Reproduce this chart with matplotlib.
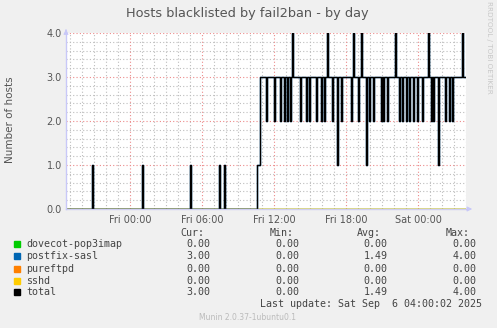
import matplotlib
matplotlib.use("Agg")
import matplotlib.pyplot as plt
import numpy as np

# ---- data (minutes relative to Fri 00:00; value holds from that time on) ----
event_min = [-320, -190, -185, 60, 65, 300, 305, 445, 450, 470, 475,
             635, 650, 680, 685, 720, 725, 750, 755, 770, 775, 785, 790,
             800, 805, 810, 815, 850, 855, 880, 885, 895, 900, 930, 935,
             955, 960, 970, 975, 985, 990, 1010, 1015, 1035, 1040, 1055, 1060,
             1105, 1110, 1115, 1120, 1140, 1145, 1155, 1160, 1180, 1185,
             1195, 1200, 1215, 1220, 1255, 1260, 1265, 1270, 1285, 1290,
             1325, 1330, 1345, 1350, 1360, 1365, 1380, 1385, 1395, 1400,
             1415, 1420, 1435, 1440, 1460, 1465, 1490, 1495, 1505, 1510,
             1515, 1520, 1540, 1545, 1575, 1580, 1595, 1600, 1610, 1615,
             1660, 1665, 1680]
postfix_sasl = [0, 1, 0, 1, 0, 1, 0, 1, 0, 1, 0,
                1, 3, 2, 3, 2, 3, 2, 3, 2, 3, 2, 3,
                2, 3, 4, 3, 2, 3, 2, 3, 2, 3, 2, 3,
                2, 3, 2, 3, 4, 3, 2, 3, 1, 3, 2, 3,
                2, 3, 4, 3, 2, 3, 4, 3, 1, 3,
                2, 3, 2, 3, 2, 3, 2, 3, 2, 3,
                4, 3, 2, 3, 2, 3, 2, 3, 2, 3,
                2, 3, 2, 3, 2, 3, 4, 3, 2, 3,
                2, 3, 1, 3, 2, 3, 2, 3, 2, 3,
                4, 3, 3]
dovecot = [0] * len(event_min)
pureftpd = [0] * len(event_min)
sshd = [0] * len(event_min)
total = [a + b + c + d for a, b, c, d in zip(dovecot, postfix_sasl, pureftpd, sshd)]

series_names = ["dovecot-pop3imap", "postfix-sasl", "pureftpd", "sshd", "total"]
series_colors = ["#00cc00", "#0066b3", "#ff8000", "#ffcc00", "#000000"]
cur_vals = ["0.00", "3.00", "0.00", "0.00", "3.00"]
min_vals = ["0.00", "0.00", "0.00", "0.00", "0.00"]
avg_vals = ["0.00", "1.49", "0.00", "0.00", "1.49"]
max_vals = ["0.00", "4.00", "0.00", "0.00", "4.00"]

tick_pos = [0, 360, 720, 1080, 1440]
tick_labels = ["Fri 00:00", "Fri 06:00", "Fri 12:00", "Fri 18:00", "Sat 00:00"]
y_ticks = [0, 1, 2, 3, 4]
y_tick_labels = ["0.0", "1.0", "2.0", "3.0", "4.0"]

title = "Hosts blacklisted by fail2ban - by day"
ylabel = "Number of hosts"
last_update = "Last update: Sat Sep  6 04:00:02 2025"
footer = "Munin 2.0.37-1ubuntu0.1"
side_text = "RRDTOOL / TOBI OETIKER"

# ---- figure ----
W, H = 497, 328
fig = plt.figure(figsize=(W / 100, H / 100), dpi=100, facecolor="#f0f0f0")
ax = fig.add_axes([66 / W, (H - 209) / H, 400 / W, 176 / H])
ax.set_facecolor("white")

xmin, xmax = -320, 1680
ax.set_xlim(xmin, xmax)
ax.set_ylim(0, 4)

# grid
for m in range(-300, 1681, 60):
    if m % 360 == 0:
        continue
    ax.axvline(m, color="#bdbdbd", lw=0.8, ls=(0, (1, 2)), zorder=1)
for v in np.arange(0.2, 4.0, 0.2):
    if abs(v - round(v)) < 1e-6:
        continue
    ax.axhline(v, color="#bdbdbd", lw=0.8, ls=(0, (1, 2)), zorder=1)
for m in tick_pos:
    ax.axvline(m, color="#ec8a8a", lw=0.8, ls=(0, (1, 2)), zorder=1.5)
for v in y_ticks[1:]:
    ax.axhline(v, color="#ec8a8a", lw=0.8, ls=(0, (1, 2)), zorder=1.5)

# series
all_series = [dovecot, postfix_sasl, pureftpd, sshd, total]
for s, c, z in zip(all_series, series_colors, [3, 4, 3.2, 3.4, 5]):
    ax.step(event_min, s, where="post", color=c, lw=1.0, zorder=z)

for sp in ax.spines.values():
    sp.set_visible(False)

# axes lines with arrows
ax.plot([xmin, xmax], [0, 0], color="#b8b8f0", lw=1.0, alpha=0.6, zorder=6,
        clip_on=False)
ax.plot([xmin, xmin], [0, 4], color="#c8c8f8", lw=1.0, zorder=6, clip_on=False)
ax.annotate("", xy=(xmax + 45, 0), xytext=(xmax, 0),
            arrowprops=dict(arrowstyle="-|>", color="#c8c8f8", lw=0.8,
                            mutation_scale=7), annotation_clip=False)
ax.annotate("", xy=(xmin, 4.15), xytext=(xmin, 4.0),
            arrowprops=dict(arrowstyle="-|>", color="#c8c8f8", lw=0.8,
                            mutation_scale=7), annotation_clip=False)

ax.set_xticks(tick_pos)
ax.set_xticklabels(tick_labels)
ax.set_yticks(y_ticks)
ax.set_yticklabels(y_tick_labels)
ax.tick_params(length=0, labelsize=7, colors="#555555", pad=4)
ax.tick_params(axis="y", pad=3)

fig.text(247.5 / W, 1 - 13.5 / H, title, ha="center", va="center",
         fontsize=9.3, color="#555555")
fig.text(10 / W, 1 - 120 / H, ylabel, ha="center", va="center",
         rotation=90, fontsize=7.5, color="#555555")
fig.text(489 / W, 1 - 47 / H, side_text, ha="center", va="center",
         rotation=270, fontsize=5.2, color="#c8c8c8")

# legend table
mono = dict(family="DejaVu Sans Mono", fontsize=7.2, color="#444444")
def ty(y):
    return 1 - y / H

for txt, xr in zip(["Cur:", "Min:", "Avg:", "Max:"], [204, 293.3, 381, 470]):
    fig.text(xr / W, ty(233.3), txt, ha="right", va="center", **mono)

rows_y = [244.3, 256.3, 268.5, 280.5, 292.3]
for i, name in enumerate(series_names):
    y = rows_y[i]
    fig.patches.append(plt.Rectangle((14 / W, ty(y + 3)), 6 / W, 6 / H,
                                     transform=fig.transFigure,
                                     color=series_colors[i], zorder=3))
    fig.text(26.5 / W, ty(y), name, ha="left", va="center", **mono)
    for vals, xr in zip([cur_vals, min_vals, avg_vals, max_vals],
                        [210.7, 299.3, 387.7, 476.7]):
        fig.text(xr / W, ty(y), vals[i], ha="right", va="center", **mono)

fig.text(482.3 / W, ty(304.3), last_update, ha="right", va="center", **mono)
fig.text(247.8 / W, ty(317.3), footer, ha="center", va="center",
         fontsize=5.5, color="#bbbbbb")

fig.savefig("out.png", dpi=100, facecolor=fig.get_facecolor())
